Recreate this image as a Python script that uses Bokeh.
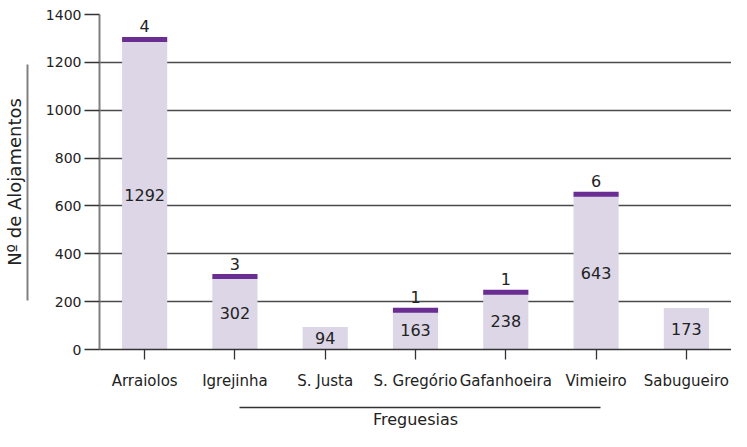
from bokeh.plotting import figure
from bokeh.models import (ColumnDataSource, Range1d, LinearAxis, FixedTicker)
from bokeh.core.properties import value
from bokeh.embed import file_html
from bokeh.resources import INLINE

categories = ["Arraiolos", "Igrejinha", "S. Justa", "S. Gregório",
              "Gafanhoeira", "Vimieiro", "Sabugueiro"]
base_values = [1292, 302, 94, 163, 238, 643, 173]
top_values = [4, 3, 0, 1, 1, 6, 0]
y_ticks = [0, 200, 400, 600, 800, 1000, 1200, 1400]

FONT = "DejaVu Sans"
LIGHT = "#dcd6e6"
PURPLE = "#6a2d91"
TXT = "#222222"

n = len(categories)
xs = [i + 0.5 for i in range(n)]

p = figure(x_range=Range1d(0, n), y_range=Range1d(0, 1400),
           width=731, height=431, output_backend="svg", toolbar_location=None,
           min_border_left=90, min_border_right=0, min_border_top=14,
           min_border_bottom=70)
p.outline_line_color = None
p.background_fill_color = "white"

# bars
base_src = ColumnDataSource(dict(x=xs, top=base_values,
                                 mid=[v / 2 for v in base_values],
                                 lbl=[str(v) for v in base_values]))
p.vbar(x="x", top="top", width=0.5, source=base_src, fill_color=LIGHT,
       line_color=None)

tx = [x for x, t in zip(xs, top_values) if t > 0]
tt = [b + t for b, t in zip(base_values, top_values) if t > 0]
tl = [str(t) for t in top_values if t > 0]
top_src = ColumnDataSource(dict(x=tx, top=tt, lbl=tl))
p.rect(x="x", y="top", width=0.5, height=5, height_units="screen",
       source=top_src, fill_color=PURPLE, line_color=None)

p.text(x="x", y="mid", text="lbl", source=base_src, text_align="center",
       text_baseline="middle", text_font=value(FONT), text_font_size="16px",
       text_color=TXT)
p.text(x="x", y="top", text="lbl", source=top_src, text_align="center",
       text_baseline="bottom", y_offset=-7, text_font=value(FONT),
       text_font_size="16px", text_color=TXT)

# grid
p.xgrid.grid_line_color = None
p.ygrid.grid_line_color = "#4a4a4a"
p.ygrid.grid_line_width = 1.3
p.ygrid.ticker = FixedTicker(ticks=y_ticks)

# y axis
ya = p.yaxis[0]
ya.ticker = FixedTicker(ticks=y_ticks)
ya.axis_line_color = "#808080"
ya.axis_line_width = 2
ya.major_tick_out = 15
ya.major_tick_in = 0
ya.major_tick_line_color = "#333333"
ya.major_tick_line_width = 1.3
ya.minor_tick_line_color = None
ya.major_label_standoff = 3
ya.major_label_text_font = FONT
ya.major_label_text_font_size = "14px"
ya.major_label_text_color = TXT
ya.axis_label = " "
ya.axis_label_text_font_size = "8px"
ya.axis_label_standoff = 3

# x axis
xa = p.xaxis[0]
xa.ticker = FixedTicker(ticks=xs)
xa.major_label_overrides = {x: c for x, c in zip(xs, categories)}
xa.axis_line_color = "#333333"
xa.axis_line_width = 1.5
xa.major_tick_out = 10
xa.major_tick_in = 0
xa.major_tick_line_color = "#333333"
xa.major_tick_line_width = 1.3
xa.minor_tick_line_color = None
xa.major_label_standoff = 12
xa.major_label_text_font = FONT
xa.major_label_text_font_size = "15px"
xa.major_label_text_color = TXT
xa.axis_label = " "
xa.axis_label_text_font_size = "8px"
xa.axis_label_standoff = 3

# decorative title lines via bounded axes
yd = LinearAxis(bounds=(204, 1191), ticker=FixedTicker(ticks=[]))
yd.axis_line_color = "#808080"
yd.axis_line_width = 2
yd.major_tick_line_color = None
yd.minor_tick_line_color = None
yd.axis_label = "Nº de Alojamentos"
yd.axis_label_text_font = FONT
yd.axis_label_text_font_style = "normal"
yd.axis_label_text_font_size = "18px"
yd.axis_label_text_color = TXT
yd.axis_label_standoff = 3
p.add_layout(yd, "left")

xd = LinearAxis(bounds=(1.55, 5.55), ticker=FixedTicker(ticks=[]))
xd.axis_line_color = "#333333"
xd.axis_line_width = 1.3
xd.major_tick_line_color = None
xd.minor_tick_line_color = None
xd.major_tick_out = 0
xd.major_tick_in = 0
xd.major_label_standoff = 0
xd.axis_label = "Freguesias"
xd.axis_label_text_font = FONT
xd.axis_label_text_font_style = "normal"
xd.axis_label_text_font_size = "16px"
xd.axis_label_text_color = TXT
xd.axis_label_standoff = 2
p.add_layout(xd, "below")

open("out.html", "w").write(file_html(p, INLINE))
